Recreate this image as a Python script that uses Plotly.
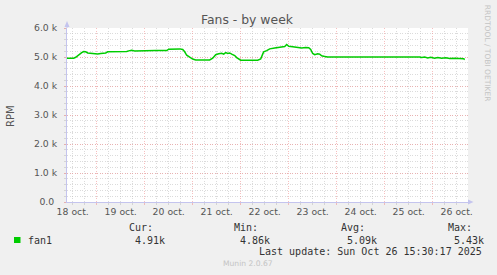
import plotly.graph_objects as go

# ---- data (hours since 18 Oct 00:00, RPM) ----
hours = [9.15, 12.5, 13.5, 14.5, 15.5, 16.5, 17.5, 18.5, 19.5, 20.5, 21.5, 22.5, 23.5,
         24.5, 26.0, 27.5, 28.5, 29.5, 35.5, 39.0, 40.5, 41.5, 43.0, 46.5, 49.5, 51.5,
         53.5, 56.5, 59.0, 60.0, 62.0, 65.5, 67.0, 68.0, 69.0, 70.5, 72.0, 73.5, 80.5,
         82.0, 83.5, 85.0, 86.5, 87.5, 88.5, 89.5, 90.5, 91.5, 93.0, 94.0, 95.0, 96.0,
         104.5, 106.0, 107.0, 107.5, 109.0, 110.5, 113.0, 115.5, 118.0, 119.0, 120.0,
         122.0, 124.5, 126.5, 128.5, 130.0, 131.0, 132.0, 133.0, 134.5, 135.5, 136.5,
         138.0, 139.5, 185.5, 186.5, 188.0, 189.5, 191.0, 193.0, 194.5, 196.5, 198.5,
         200.5, 203.0, 205.5, 207.5, 208.0]
rpm_k = [4.96, 4.96, 4.99, 5.05, 5.12, 5.15, 5.19, 5.18, 5.14, 5.13, 5.14, 5.11, 5.12,
         5.10, 5.12, 5.13, 5.14, 5.18, 5.18, 5.19, 5.22, 5.23, 5.21, 5.22, 5.22, 5.21,
         5.22, 5.22, 5.22, 5.27, 5.28, 5.28, 5.26, 5.18, 5.06, 5.00, 4.93, 4.90, 4.90,
         4.96, 5.08, 5.11, 5.13, 5.10, 5.15, 5.12, 5.14, 5.10, 5.05, 4.98, 4.92, 4.89,
         4.89, 4.93, 5.10, 5.18, 5.22, 5.28, 5.31, 5.33, 5.36, 5.43, 5.37,
         5.35, 5.32, 5.31, 5.33, 5.32, 5.26, 5.12, 5.08, 5.11, 5.10, 5.04,
         5.02, 5.00, 5.00, 4.98, 5.00, 4.97, 4.99, 4.96, 4.98, 4.96, 4.97,
         4.95, 4.96, 4.95, 4.94, 4.91]
rpm = [v * 1000 for v in rpm_k]

day_labels = ["18 oct.", "19 oct.", "20 oct.", "21 oct.", "22 oct.",
              "23 oct.", "24 oct.", "25 oct.", "26 oct."]
day_label_hours = [12 + 24 * i for i in range(len(day_labels))]
y_tick_vals = [0, 1000, 2000, 3000, 4000, 5000, 6000]
y_tick_text = ["0.0\u00a0", "1.0 k", "2.0 k", "3.0 k", "4.0 k", "5.0 k", "6.0 k"]
x_range = [9.15, 209.65]

series_name = "fan1"
stat_labels = ["Cur:", "Min:", "Avg:", "Max:"]
stat_values = ["4.91k", "4.86k", "5.09k", "5.43k"]
last_update = "Last update: Sun Oct 26 15:30:17 2025"

# ---- layout geometry (pixels) ----
W, H = 497, 275
L, R, T, B = 67, 29, 28, 73
PW, PH = W - L - R, H - T - B


def px(x):
    return (x - L) / PW


def py(y):
    return (H - B - y) / PH


GREEN = "#00cc00"
RED_GRID = "rgba(240,150,150,0.6)"
GRAY_GRID = "rgba(190,190,190,0.55)"
AXIS_BLUE = "#c4c4ee"
TXT = "#555555"
DASH = "1px,1.5px"

fig = go.Figure()
fig.add_trace(go.Scatter(x=hours, y=rpm, mode="lines",
                         line=dict(color=GREEN, width=1.5), hoverinfo="skip",
                         showlegend=False))
fig.add_trace(go.Scatter(x=x_range, y=[0, 0], mode="markers", xaxis="x2",
                         marker=dict(opacity=0), hoverinfo="skip", showlegend=False))

fig.update_layout(
    width=W, height=H,
    margin=dict(l=L, r=R, t=T, b=B, pad=0),
    paper_bgcolor="#f0f0f0", plot_bgcolor="#ffffff",
    font=dict(family="DejaVu Sans", size=9.3, color=TXT),
    xaxis=dict(range=x_range, tickmode="linear", tick0=0, dtick=24,
               showticklabels=False, showgrid=True, gridcolor=RED_GRID,
               griddash=DASH, gridwidth=1,
               ticks="outside", ticklen=2, tickcolor=RED_GRID,
               minor=dict(tickmode="linear", tick0=0, dtick=6, showgrid=True,
                          gridcolor=GRAY_GRID, griddash=DASH, gridwidth=1,
                          ticks="outside", ticklen=2, tickcolor=GRAY_GRID),
               showline=True, linecolor=AXIS_BLUE, linewidth=1, zeroline=False,
               fixedrange=True),
    xaxis2=dict(range=x_range, overlaying="x", side="bottom", tickmode="array",
                tickvals=day_label_hours, ticktext=day_labels, showgrid=False,
                ticks="", ticklabelstandoff=3, zeroline=False, showline=False,
                tickfont=dict(family="DejaVu Sans", size=9.3, color=TXT)),
    yaxis=dict(range=[0, 6000], tickmode="array", tickvals=y_tick_vals,
               ticktext=y_tick_text, showgrid=True, gridcolor=RED_GRID,
               griddash=DASH, gridwidth=1,
               ticks="outside", ticklen=2, tickcolor=RED_GRID, ticklabelstandoff=5,
               minor=dict(tickmode="linear", tick0=0, dtick=200, showgrid=True,
                          gridcolor=GRAY_GRID, griddash=DASH, gridwidth=1,
                          ticks="outside", ticklen=2, tickcolor=GRAY_GRID),
               showline=True, linecolor=AXIS_BLUE, linewidth=1, zeroline=False,
               fixedrange=True),
)

# axis arrows
fig.add_shape(type="line", xref="paper", yref="paper", x0=px(L), x1=px(L),
              y0=1, y1=py(24), line=dict(color=AXIS_BLUE, width=1))
fig.add_shape(type="path", xref="paper", yref="paper",
              path=f"M {px(64.5)} {py(27)} L {px(69.5)} {py(27)} L {px(67)} {py(21)} Z",
              fillcolor=AXIS_BLUE, line=dict(width=0))
fig.add_shape(type="path", xref="paper", yref="paper",
              path=f"M {px(468)} {py(199.5)} L {px(468)} {py(204.5)} L {px(473.5)} {py(202)} Z",
              fillcolor=AXIS_BLUE, line=dict(width=0))

ann = []
ann.append(dict(text="Fans - by week", x=px(247.7), y=py(19), xanchor="center",
                yanchor="middle", font=dict(family="DejaVu Sans", size=12.4, color=TXT)))
ann.append(dict(text="RPM", x=px(10), y=py(116), textangle=-90, xanchor="center",
                yanchor="middle", font=dict(family="DejaVu Sans", size=10, color=TXT)))
ann.append(dict(text="RRDTOOL / TOBI OETIKER", x=px(487.5), y=py(53.3), textangle=90,
                xanchor="center", yanchor="middle",
                font=dict(family="DejaVu Sans", size=7.5, color="#c4c4c4")))
mono = dict(family="DejaVu Sans Mono", size=10, color="#333333")
ann.append(dict(text=series_name, x=px(25.5), y=py(240), xanchor="left",
                yanchor="middle", font=mono))
stat_x = [127.7, 233, 340, 446.7]
for lab, val, sx in zip(stat_labels, stat_values, stat_x):
    ann.append(dict(text=lab, x=px(sx - 1.2), y=py(227.7), xanchor="left",
                    yanchor="middle", font=mono))
    ann.append(dict(text=val, x=px(sx + 4.8), y=py(240), xanchor="left",
                    yanchor="middle", font=mono))
ann.append(dict(text=last_update, x=px(482.3 + 1.2), y=py(251.7), xanchor="right",
                yanchor="middle", font=mono))
ann.append(dict(text="Munin 2.0.67", x=px(248), y=py(263.5), xanchor="center",
                yanchor="middle", font=dict(family="DejaVu Sans", size=7.6, color="#c4c4c4")))
for a in ann:
    a.update(xref="paper", yref="paper", showarrow=False)
fig.update_layout(annotations=ann)

# legend colour box
fig.add_shape(type="rect", xref="paper", yref="paper", x0=px(14), x1=px(20.5),
              y0=py(243), y1=py(237), fillcolor=GREEN, line=dict(width=0))

fig.write_html("out.html", config={"displayModeBar": False})
